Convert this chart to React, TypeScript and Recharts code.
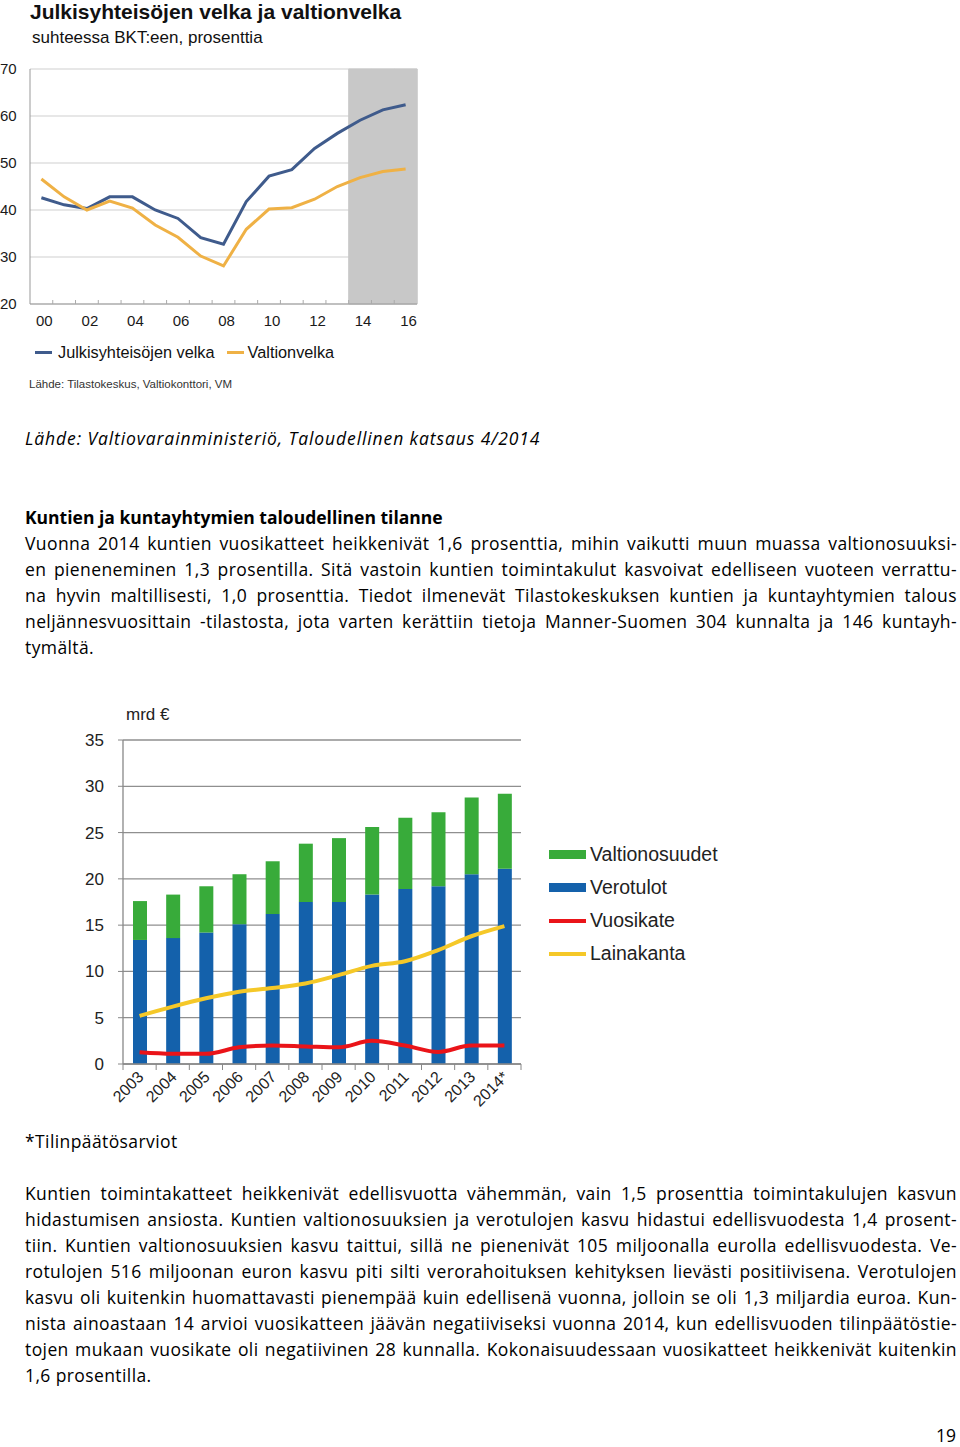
import React from "react";
import {
  ComposedChart, Bar, Line, XAxis, YAxis, CartesianGrid,
} from "recharts";

// ylempi kaavio: julkisyhteisöjen velka ja valtionvelka, % BKT:sta
const topYears = ["00", "01", "02", "03", "04", "05", "06", "07", "08", "09", "10", "11", "12", "13", "14", "15", "16"];
const julkisyhteisot = [42.6, 41.1, 40.3, 42.8, 42.8, 40.0, 38.2, 34.1, 32.7, 41.8, 47.2, 48.6, 53.1, 56.3, 59.1, 61.3, 62.4];
const valtionvelka = [46.6, 42.8, 40.0, 41.9, 40.4, 36.8, 34.2, 30.2, 28.1, 35.9, 40.2, 40.5, 42.3, 45.0, 46.9, 48.2, 48.7];
const ennusteVuodet = ["14", "15", "16"];
const topTicks = [20, 30, 40, 50, 60, 70];

// alempi kaavio: kuntien talous, mrd €
const vuodet = ["2003", "2004", "2005", "2006", "2007", "2008", "2009", "2010", "2011", "2012", "2013", "2014*"];
const verotulot = [13.4, 13.6, 14.2, 15.1, 16.2, 17.5, 17.5, 18.3, 18.9, 19.2, 20.5, 21.1];
const valtionosuudet = [4.2, 4.7, 5.0, 5.4, 5.7, 6.3, 6.9, 7.3, 7.7, 8.0, 8.3, 8.1];
const vuosikate = [1.26, 1.1, 1.1, 1.8, 2.0, 1.9, 1.8, 2.5, 2.0, 1.3, 2.0, 2.0];
const lainakanta = [5.2, 6.2, 7.1, 7.8, 8.2, 8.7, 9.6, 10.6, 11.1, 12.3, 13.8, 14.9];
const bottomTicks = [0, 5, 10, 15, 20, 25, 30, 35];

const lahde1 = "Lähde: Valtiovarainministeriö, Taloudellinen katsaus 4/2014";
const otsikko = "Kuntien ja kuntayhtymien taloudellinen tilanne";
const kappale1 = [
  "Vuonna 2014 kuntien vuosikatteet heikkenivät 1,6 prosenttia, mihin vaikutti muun muassa valtionosuuksi-",
  "en pieneneminen 1,3 prosentilla. Sitä vastoin kuntien toimintakulut kasvoivat edelliseen vuoteen verrattu-",
  "na hyvin maltillisesti, 1,0 prosenttia. Tiedot ilmenevät Tilastokeskuksen kuntien ja kuntayhtymien talous",
  "neljännesvuosittain -tilastosta, jota varten kerättiin tietoja Manner-Suomen 304 kunnalta ja 146 kuntayh-",
  "tymältä.",
];
const alaviite = "*Tilinpäätösarviot";
const kappale2 = [
  "Kuntien toimintakatteet heikkenivät edellisvuotta vähemmän, vain 1,5 prosenttia toimintakulujen kasvun",
  "hidastumisen ansiosta. Kuntien valtionosuuksien ja verotulojen kasvu hidastui edellisvuodesta 1,4 prosent-",
  "tiin. Kuntien valtionosuuksien kasvu taittui, sillä ne pienenivät 105 miljoonalla eurolla edellisvuodesta. Ve-",
  "rotulojen 516 miljoonan euron kasvu piti silti verorahoituksen kehityksen lievästi positiivisena. Verotulojen",
  "kasvu oli kuitenkin huomattavasti pienempää kuin edellisenä vuonna, jolloin se oli 1,3 miljardia euroa. Kun-",
  "nista ainoastaan 14 arvioi vuosikatteen jäävän negatiiviseksi vuonna 2014, kun edellisvuoden tilinpäätöstie-",
  "tojen mukaan vuosikate oli negatiivinen 28 kunnalla. Kokonaisuudessaan vuosikatteet heikkenivät kuitenkin",
  "1,6 prosentilla.",
];

const topData = topYears.map((y, i) => ({
  vuosi: y,
  julkis: julkisyhteisot[i],
  valtio: valtionvelka[i],
  ennuste: ennusteVuodet.includes(y) ? [20, 70] : null,
}));

const bottomData = vuodet.map((v, i) => ({
  vuosi: v,
  verotulot: verotulot[i],
  valtionosuudet: valtionosuudet[i],
  vuosikate: vuosikate[i],
  lainakanta: lainakanta[i],
}));

const arial = "'Liberation Sans', Arial, sans-serif";
const TOP_BOTTOM = 244;
const TOP_BAND = 387 / 17;
const BOT_BOTTOM = 364;
const BOT_BAND = 398 / 12;

const TopLeftTick = (p: any) => (
  <text x={0} y={p.y} dy={5} fontSize={15} fontFamily={arial} fill="#1a1a1a" textAnchor="start">
    {p.payload.value}
  </text>
);
const TopRightTick = (p: any) => (
  <text x={430} y={p.y} dy={5} fontSize={15} fontFamily={arial} fill="#1a1a1a" textAnchor="start">
    {p.payload.value}
  </text>
);
const TopXTick = (p: any) => {
  const i = p.index;
  return (
    <g>
      {i < topYears.length - 1 && (
        <line x1={p.x + TOP_BAND / 2} x2={p.x + TOP_BAND / 2} y1={TOP_BOTTOM} y2={TOP_BOTTOM - 4} stroke="#aaa" />
      )}
      {i % 2 === 0 && (
        <text x={p.x + 3} y={TOP_BOTTOM + 22} fontSize={15} fontFamily={arial} fill="#1a1a1a" textAnchor="middle">
          {p.payload.value}
        </text>
      )}
    </g>
  );
};

const BotXTick = (p: any) => {
  const last = p.index === vuodet.length - 1;
  return (
    <g>
      <line x1={p.x - BOT_BAND / 2} x2={p.x - BOT_BAND / 2} y1={BOT_BOTTOM} y2={BOT_BOTTOM + 6} stroke="#888" />
      {last && <line x1={p.x + BOT_BAND / 2} x2={p.x + BOT_BAND / 2} y1={BOT_BOTTOM} y2={BOT_BOTTOM + 6} stroke="#888" />}
      <text
        x={p.x + 5}
        y={BOT_BOTTOM + 14}
        fontSize={16}
        fontFamily={arial}
        fill="#222"
        textAnchor="end"
        transform={`rotate(-45 ${p.x + 5} ${BOT_BOTTOM + 14})`}
      >
        {p.payload.value}
      </text>
    </g>
  );
};

const abs = (left: number, top: number, extra: React.CSSProperties = {}): React.CSSProperties => ({
  position: "absolute",
  left,
  top,
  whiteSpace: "nowrap",
  ...extra,
});

const bodyFont: React.CSSProperties = {
  fontFamily: "'Open Sans', sans-serif",
  fontSize: 17.5,
  letterSpacing: 0.4,
  color: "#000",
  lineHeight: "26px",
};

const Rivi = ({ text, last }: { text: string; last?: boolean }) => (
  <div
    style={{
      width: 932,
      whiteSpace: "nowrap",
      textAlign: last ? "left" : "justify",
      textAlignLast: last ? "left" : "justify",
      height: 26,
    }}
  >
    {text}
  </div>
);

export default function App() {
  return (
    <div style={{ position: "absolute", left: 0, top: 0, width: 960, height: 1447, background: "#fff", overflow: "hidden" }}>
      {/* ylempi kaavio */}
      <div style={abs(30, 0, { fontFamily: arial, fontWeight: "bold", fontSize: 21, color: "#111" })}>
        Julkisyhteisöjen velka ja valtionvelka
      </div>
      <div style={abs(32, 28, { fontFamily: arial, fontSize: 17, color: "#111" })}>suhteessa BKT:een, prosenttia</div>

      <div style={{ position: "absolute", left: 0, top: 60 }}>
        <ComposedChart width={460} height={274} data={topData} margin={{ top: 9, right: 0, bottom: 0, left: 0 }} barCategoryGap={0} barGap={0}>
          <CartesianGrid vertical={false} stroke="#cfcfcf" />
          <XAxis dataKey="vuosi" interval={0} height={30} axisLine={{ stroke: "#999" }} tickLine={false} tick={TopXTick} />
          <YAxis domain={[20, 70]} ticks={topTicks} width={30} axisLine={{ stroke: "#999" }} tickLine={false} tick={TopLeftTick} />
          <YAxis yAxisId="r" orientation="right" domain={[20, 70]} ticks={topTicks} width={43} axisLine={false} tickLine={false} tick={TopRightTick} />
          <Bar dataKey="ennuste" fill="#c8c8c8" stroke="#c8c8c8" strokeWidth={1} isAnimationActive={false} />
          <Line dataKey="julkis" stroke="#3f5b8c" strokeWidth={3} dot={false} type="linear" isAnimationActive={false} />
          <Line dataKey="valtio" stroke="#efb145" strokeWidth={3} dot={false} type="linear" isAnimationActive={false} />
        </ComposedChart>
      </div>

      <div style={abs(35, 343, { fontFamily: arial, fontSize: 16.3, color: "#111", display: "flex", alignItems: "center" })}>
        <span style={{ display: "inline-block", width: 17, height: 3, background: "#3f5b8c", marginRight: 6 }} />
        <span>Julkisyhteisöjen velka</span>
        <span style={{ display: "inline-block", width: 17, height: 3, background: "#efb145", marginLeft: 12, marginRight: 4 }} />
        <span>Valtionvelka</span>
      </div>
      <div style={abs(29, 378, { fontFamily: arial, fontSize: 11.5, color: "#333" })}>Lähde: Tilastokeskus, Valtiokonttori, VM</div>

      {/* teksti */}
      <div style={abs(25, 425, { ...bodyFont, fontStyle: "italic", letterSpacing: 0.9 })}>{lahde1}</div>
      <div style={{ position: "absolute", left: 25, top: 504, ...bodyFont }}>
        <div style={{ fontWeight: "bold", height: 26, letterSpacing: 0 }}>{otsikko}</div>
        {kappale1.map((t, i) => (
          <Rivi key={i} text={t} last={i === kappale1.length - 1} />
        ))}
      </div>

      {/* alempi kaavio */}
      <div style={abs(126, 705, { fontFamily: arial, fontSize: 17, color: "#222" })}>mrd €</div>
      <div style={{ position: "absolute", left: 0, top: 700 }}>
        <ComposedChart width={540} height={420} data={bottomData} margin={{ top: 40, right: 19, bottom: 0, left: 0 }}>
          <CartesianGrid vertical={false} stroke="#8f8f8f" strokeWidth={1.3} />
          <XAxis dataKey="vuosi" interval={0} height={56} axisLine={{ stroke: "#888", strokeWidth: 1.3 }} tickLine={false} tick={BotXTick} />
          <YAxis
            domain={[0, 35]}
            ticks={bottomTicks}
            width={123}
            axisLine={{ stroke: "#888", strokeWidth: 1.3 }}
            tickLine={{ stroke: "#888" }}
            tickSize={5}
            tickMargin={14}
            tick={{ fontSize: 17, fontFamily: arial, fill: "#222" }}
          />
          <Bar dataKey="verotulot" stackId="a" fill="#1461ab" barSize={14} isAnimationActive={false} />
          <Bar dataKey="valtionosuudet" stackId="a" fill="#38ab3a" barSize={14} isAnimationActive={false} />
          <Line dataKey="vuosikate" stroke="#ea1419" strokeWidth={4} dot={false} type="monotone" isAnimationActive={false} />
          <Line dataKey="lainakanta" stroke="#f5c828" strokeWidth={4} dot={false} type="monotone" isAnimationActive={false} />
        </ComposedChart>
      </div>

      <div style={abs(549, 838, { fontFamily: arial, fontSize: 19.5, color: "#222", lineHeight: "33px" })}>
        {[
          { n: "Valtionosuudet", c: "#38ab3a", h: 9 },
          { n: "Verotulot", c: "#1461ab", h: 9 },
          { n: "Vuosikate", c: "#ea1419", h: 4 },
          { n: "Lainakanta", c: "#f5c828", h: 4 },
        ].map((l) => (
          <div key={l.n} style={{ display: "flex", alignItems: "center", height: 33 }}>
            <span style={{ display: "inline-block", width: 37, height: l.h, background: l.c, marginRight: 4 }} />
            <span>{l.n}</span>
          </div>
        ))}
      </div>

      {/* teksti */}
      <div style={abs(25, 1128, bodyFont)}>{alaviite}</div>
      <div style={{ position: "absolute", left: 25, top: 1180, ...bodyFont }}>
        {kappale2.map((t, i) => (
          <Rivi key={i} text={t} last={i === kappale2.length - 1} />
        ))}
      </div>
      <div style={{ position: "absolute", left: 936, top: 1422, ...bodyFont, fontSize: 17.5, letterSpacing: 0 }}>19</div>
    </div>
  );
}
